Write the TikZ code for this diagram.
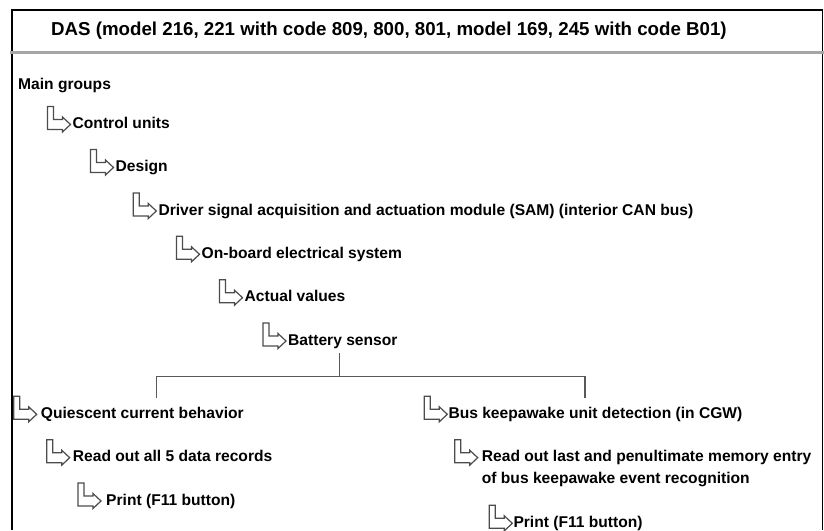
\documentclass[tikz,border=0pt]{standalone}
\usepackage{fontspec}
\setmainfont{Liberation Sans}
\usetikzlibrary{calc}
\newcommand{\itemfont}{\fontsize{15.6}{21.7}\selectfont\bfseries}
\newcommand{\titlefont}{\fontsize{18.7}{22}\selectfont\bfseries}
\tikzset{
  frameline/.style={black, line width=1.6pt},
  sepline/.style={gray!70, line width=2.6pt},
  treeline/.style={black!65, line width=1.3pt},
  glyphline/.style={black!70, line width=1.2pt, fill=white, line join=miter},
  item/.style={anchor=base west, inner sep=0pt, font=\itemfont, text=black},
  lglyph/.pic={\draw[glyphline] (0,-22) -- (6,-22) -- (6,-9) -- (15,-9) -- (15,-11.5) -- (23,-4) -- (15,3.5) -- (15,1) -- (0,1) -- cycle;}
}
\begin{document}
\begin{tikzpicture}[x=1pt,y=-1pt]
\useasboundingbox (0,0) rectangle (824,530);
\fill[white] (0,0) rectangle (824,530);
% frame
\draw[frameline] (11.7,530) -- (11.7,10) -- (822.3,10) -- (822.3,530);
\draw[sepline] (10,52.5) -- (824,52.5);
% title
\node[anchor=base west, inner sep=0pt, font=\titlefont] (title) at (51,35.5) {DAS (model 216, 221 with code 809, 800, 801, model 169, 245 with code B01)};
% items
\node[item] (main) at (18,89.5) {Main groups};
\node[item] (cu) at (72.5,128.5) {Control units};
\node[item] (des) at (115.5,171.5) {Design};
\node[item] (sam) at (158.3,215) {Driver signal acquisition and actuation module (SAM) (interior CAN bus)};
\node[item] (obe) at (201.5,258.3) {On-board electrical system};
\node[item] (act) at (244.5,301.7) {Actual values};
\node[item] (bat) at (288,345) {Battery sensor};
\node[item] (qui) at (40.7,418.3) {Quiescent current behavior};
\node[item] (bus) at (448.3,418.3) {Bus keepawake unit detection (in CGW)};
\node[item] (rall) at (72.7,461.7) {Read out all 5 data records};
\node[item, align=left] (rlast) at (481.7,483.4) {Read out last and penultimate memory entry\\of bus keepawake event recognition};
\node[item] (prl) at (106,505) {Print (F11 button)};
\node[item] (prr) at (513.3,527.3) {Print (F11 button)};
% glyphs
\foreach \n/\g in {cu/25, des/25, sam/25, obe/25, act/25, bat/25, qui/27, bus/24, rall/26, prl/28, prr/24}{
  \pic at ($(\n.base west)+(-\g,0)$) {lglyph};
}
\pic at ($(rlast.base west)+(-27,-21.7)$) {lglyph};
% tree connector
\coordinate (tl) at (156.7,398.3);
\coordinate (tr) at (585,398.3);
\coordinate (tm) at (339.3,376.7);
\draw[treeline] (bat.south -| tm) ++(0,4.5) -- (tm);
\draw[treeline] (tl) |- (tm) -| (tr);
\end{tikzpicture}
\end{document}
